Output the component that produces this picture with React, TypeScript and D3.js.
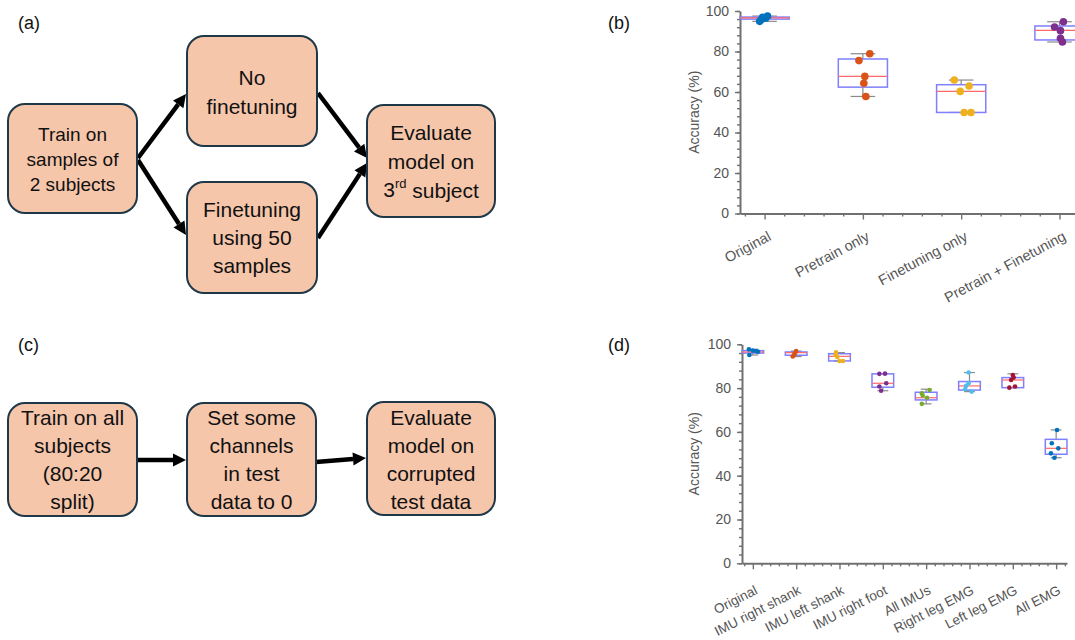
import React, { useEffect, useRef } from "react";
import * as d3 from "d3";

// ---- panel (b) data ----
const catsB = ["Original", "Pretrain only", "Finetuning only", "Pretrain + Finetuning"];
const q1B = [96.0, 62.4, 49.9, 85.7];
const medB = [96.6, 67.7, 60.3, 90.4];
const q3B = [97.0, 76.3, 63.6, 92.6];
const loB = [94.9, 57.8, 49.9, 84.7];
const hiB = [97.5, 78.9, 65.9, 94.7];
const ptsB = [
  [94.9, 96.9, 97.5, 96.4, 95.9],
  [75.5, 64.3, 67.7, 57.8, 78.9],
  [65.9, 63.0, 60.3, 49.9, 49.9],
  [94.7, 92.1, 90.3, 86.5, 84.7],
];
const jitB = [
  [-0.05, -0.02, 0.03, 0.01, -0.03],
  [-0.04, 0.01, 0.02, 0.03, 0.07],
  [-0.07, 0.08, -0.01, 0.03, 0.1],
  [0.04, -0.05, 0.01, 0.01, 0.03],
];

// ---- panel (d) data ----
const catsD = [
  "Original", "IMU right shank", "IMU left shank", "IMU right foot",
  "All IMUs", "Right leg EMG", "Left leg EMG", "All EMG",
];
const q1D = [96.0, 95.0, 92.4, 80.4, 74.6, 79.1, 80.2, 49.8];
const medD = [96.5, 96.2, 94.5, 82.2, 75.6, 81.0, 83.7, 52.5];
const q3D = [97.1, 96.5, 95.7, 86.5, 78.1, 83.0, 84.8, 56.6];
const loD = [95.1, 94.4, 92.4, 78.8, 72.8, 78.4, 80.2, 48.2];
const hiD = [97.7, 96.9, 96.2, 86.6, 79.5, 87.1, 86.5, 60.9];
const ptsD = [
  [95.1, 97.7, 97.1, 96.9, 96.6],
  [94.4, 95.6, 96.9, 96.2, 95.0],
  [96.3, 95.1, 94.2, 92.4, 92.4],
  [86.5, 86.6, 82.2, 80.7, 78.8],
  [79.1, 77.6, 76.6, 75.6, 72.8],
  [87.1, 82.2, 81.0, 79.5, 78.4],
  [86.0, 83.7, 84.8, 80.2, 80.7],
  [60.9, 54.8, 52.5, 50.2, 48.2],
];
const jitD = [
  [-0.08, -0.09, 0, 0.08, 0.12],
  [-0.08, -0.04, 0, -0.02, -0.05],
  [-0.08, -0.09, -0.05, 0, 0.08],
  [-0.08, 0.05, 0.08, -0.08, -0.04],
  [0.08, -0.1, -0.08, 0.02, -0.1],
  [-0.02, -0.02, -0.08, -0.1, 0.05],
  [0, -0.04, 0.02, -0.08, 0.05],
  [0.02, -0.1, 0.05, -0.12, -0.04],
];

const colorsB = ["#0072BD", "#D95319", "#EDB120", "#7E2F8E"];
const colorsD = ["#0072BD", "#D95319", "#EDB120", "#7E2F8E", "#77AC30", "#4DBEEE", "#A2142F", "#0072BD"];

const FONT = "'Liberation Sans', Arial, sans-serif";
const AXIS = "#707070";

type BoxProps = {
  cats: string[];
  q1: number[];
  med: number[];
  q3: number[];
  lo: number[];
  hi: number[];
  pts: number[][];
  jit: number[][];
  colors: string[];
  left: number;
  unit: number;
  top: number;
  bottom: number;
  r: number;
  angle: number;
  labelSize: number;
  labelShift: [number, number];
};

const BoxChart = (p: BoxProps) => {
  const ref = useRef<SVGGElement>(null);

  useEffect(() => {
    const g = d3.select(ref.current);
    g.selectAll("*").remove();
    const n = p.cats.length;
    const x = d3
      .scaleLinear()
      .domain([0.75, n + 0.25])
      .range([p.left, p.left + (n - 0.5) * p.unit]);
    const y = d3.scaleLinear().domain([0, 100]).range([p.bottom, p.top]);

    // minor ticks
    const minorX = d3.range(4, 5 * n + 2).map((k) => k / 5).filter((v) => v % 1 !== 0);
    g.append("g")
      .attr("transform", `translate(0,${p.bottom})`)
      .call(d3.axisBottom(x).tickValues(minorX).tickSize(3).tickFormat(() => ""))
      .call((a) => a.select(".domain").remove());
    g.append("g")
      .attr("transform", `translate(${p.left},0)`)
      .call(d3.axisLeft(y).tickValues(d3.range(0, 101, 4)).tickSize(3).tickFormat(() => ""))
      .call((a) => a.select(".domain").remove());

    const xa = g
      .append("g")
      .attr("transform", `translate(0,${p.bottom})`)
      .call(
        d3
          .axisBottom(x)
          .tickValues(d3.range(1, n + 1))
          .tickSizeInner(6)
          .tickSizeOuter(0)
          .tickFormat((d) => p.cats[(d as number) - 1])
      );
    xa.selectAll("text")
      .attr("x", 0)
      .attr("y", 0)
      .attr("dy", 0)
      .attr("text-anchor", "end")
      .attr("transform", `translate(${p.labelShift[0]},${p.labelShift[1]}) rotate(${-p.angle})`)
      .style("font-size", `${p.labelSize}px`);

    const ya = g
      .append("g")
      .attr("transform", `translate(${p.left},0)`)
      .call(d3.axisLeft(y).tickValues(d3.range(0, 101, 20)).tickSizeInner(5).tickSizeOuter(0).tickPadding(6));
    ya.selectAll("text").style("font-size", "14px");

    g.selectAll(".domain, .tick line").attr("stroke", AXIS).attr("stroke-width", 1.4);
    g.selectAll(".domain").attr("stroke-width", 2);
    g.selectAll(".tick text").attr("fill", "#555").style("font-family", FONT);

    g.append("text")
      .attr("transform", `translate(699,${(p.top + p.bottom) / 2}) rotate(-90)`)
      .attr("text-anchor", "middle")
      .attr("fill", "#555")
      .style("font-family", FONT)
      .style("font-size", "14px")
      .text("Accuracy (%)");

    const boxes = g
      .append("g")
      .selectAll("g")
      .data(p.cats.map((c, i) => i))
      .join("g");

    const wc = "#8a8a8a";
    boxes.append("line").attr("x1", (i) => x(i + 1)).attr("x2", (i) => x(i + 1))
      .attr("y1", (i) => y(p.lo[i])).attr("y2", (i) => y(p.q1[i])).attr("stroke", wc).attr("stroke-width", 1.2);
    boxes.append("line").attr("x1", (i) => x(i + 1)).attr("x2", (i) => x(i + 1))
      .attr("y1", (i) => y(p.q3[i])).attr("y2", (i) => y(p.hi[i])).attr("stroke", wc).attr("stroke-width", 1.2);
    boxes.append("line").attr("x1", (i) => x(i + 0.875)).attr("x2", (i) => x(i + 1.125))
      .attr("y1", (i) => y(p.lo[i])).attr("y2", (i) => y(p.lo[i])).attr("stroke", wc).attr("stroke-width", 1.2);
    boxes.append("line").attr("x1", (i) => x(i + 0.875)).attr("x2", (i) => x(i + 1.125))
      .attr("y1", (i) => y(p.hi[i])).attr("y2", (i) => y(p.hi[i])).attr("stroke", wc).attr("stroke-width", 1.2);
    boxes.append("rect")
      .attr("x", (i) => x(i + 0.75))
      .attr("width", x(1.25) - x(0.75))
      .attr("y", (i) => y(p.q3[i]))
      .attr("height", (i) => y(p.q1[i]) - y(p.q3[i]))
      .attr("fill", "none")
      .attr("stroke", "#7f7fff")
      .attr("stroke-width", 1.5);
    boxes.append("line").attr("x1", (i) => x(i + 0.75)).attr("x2", (i) => x(i + 1.25))
      .attr("y1", (i) => y(p.med[i])).attr("y2", (i) => y(p.med[i])).attr("stroke", "#ff6a6a").attr("stroke-width", 1.2);

    boxes.each(function (i) {
      d3.select(this)
        .selectAll("circle")
        .data(p.pts[i])
        .join("circle")
        .attr("cx", (v, k) => x(i + 1 + p.jit[i][k]))
        .attr("cy", (v) => y(v))
        .attr("r", p.r)
        .attr("fill", p.colors[i]);
    });
  }, [p]);

  return <g ref={ref} />;
};

type Node = { x: number; y: number; w: number; h: number; lines: React.ReactNode[]; cy: number; gap: number; size: number };

const nodesA: Node[] = [
  { x: 8, y: 104, w: 129, h: 109, lines: ["Train on", "samples of", "2 subjects"], cy: 159.5, gap: 24.6, size: 19 },
  { x: 187, y: 36, w: 130, h: 110, lines: ["No", "finetuning"], cy: 91.7, gap: 28.7, size: 21 },
  { x: 187, y: 182, w: 130, h: 111, lines: ["Finetuning", "using 50", "samples"], cy: 237.5, gap: 28.2, size: 21 },
  {
    x: 367, y: 105, w: 128, h: 112,
    lines: ["Evaluate", "model on", <>3<tspan dy="-7" fontSize="13">rd</tspan><tspan dy="7"> subject</tspan></>],
    cy: 161, gap: 28.5, size: 21,
  },
];

const nodesC: Node[] = [
  { x: 8, y: 403, w: 129, h: 113, lines: ["Train on all", "subjects", "(80:20", "split)"], cy: 459.5, gap: 28.3, size: 21 },
  { x: 187, y: 403, w: 129, h: 113, lines: ["Set some", "channels", "in test", "data to 0"], cy: 459.5, gap: 28.3, size: 21 },
  { x: 367, y: 402, w: 128, h: 113, lines: ["Evaluate", "model on", "corrupted", "test data"], cy: 459.5, gap: 28.3, size: 21 },
];

const arrows = [
  [138, 158, 186, 94],
  [138, 160, 186, 235],
  [318, 93, 367, 158],
  [318, 238, 367, 163],
  [137, 460, 186, 460],
  [316, 462, 366, 458],
];

const FlowNode = ({ n }: { n: Node }) => {
  const y0 = n.cy - ((n.lines.length - 1) * n.gap) / 2;
  return (
    <g>
      <rect x={n.x} y={n.y} width={n.w} height={n.h} rx={17} fill="#F6C6AB" stroke="#1f3848" strokeWidth={2} />
      {n.lines.map((l, i) => (
        <text
          key={i}
          x={n.x + n.w / 2}
          y={y0 + i * n.gap}
          textAnchor="middle"
          dominantBaseline="central"
          fontSize={n.size}
          fontFamily={FONT}
          fill="#111"
        >
          {l}
        </text>
      ))}
    </g>
  );
};

const Arrow = ({ a }: { a: number[] }) => {
  const [x1, y1, x2, y2] = a;
  const ang = Math.atan2(y2 - y1, x2 - x1);
  const L = 13;
  const W = 6.5;
  const bx = x2 - L * Math.cos(ang);
  const by = y2 - L * Math.sin(ang);
  const px = -Math.sin(ang) * W;
  const py = Math.cos(ang) * W;
  return (
    <g>
      <line x1={x1} y1={y1} x2={bx} y2={by} stroke="#000" strokeWidth={4.5} />
      <polygon points={`${x2},${y2} ${bx + px},${by + py} ${bx - px},${by - py}`} fill="#000" />
    </g>
  );
};

const panelLabel = (t: string, x: number, y: number) => (
  <text x={x} y={y} fontSize={18} fontFamily={FONT} fill="#111">
    {t}
  </text>
);

export default function App() {
  return (
    <svg
      width={1075}
      height={640}
      style={{ position: "absolute", left: 0, top: 0, background: "#fff" }}
    >
      {panelLabel("(a)", 18, 29)}
      {panelLabel("(b)", 608, 29)}
      {panelLabel("(c)", 18, 351)}
      {panelLabel("(d)", 608, 351)}
      {arrows.map((a, i) => (
        <Arrow key={i} a={a} />
      ))}
      {nodesA.map((n, i) => (
        <FlowNode key={`a${i}`} n={n} />
      ))}
      {nodesC.map((n, i) => (
        <FlowNode key={`c${i}`} n={n} />
      ))}
      <BoxChart
        cats={catsB} q1={q1B} med={medB} q3={q3B} lo={loB} hi={hiB} pts={ptsB} jit={jitB}
        colors={colorsB} left={740} unit={98.3} top={11} bottom={213.5} r={3.8} angle={28} labelSize={14.5}
        labelShift={[7, 26]}
      />
      <BoxChart
        cats={catsD} q1={q1D} med={medD} q3={q3D} lo={loD} hi={hiD} pts={ptsD} jit={jitD}
        colors={colorsD} left={742} unit={43.33} top={344.3} bottom={563.3} r={2.3} angle={27} labelSize={13.5}
        labelShift={[5, 30]}
      />
    </svg>
  );
}
